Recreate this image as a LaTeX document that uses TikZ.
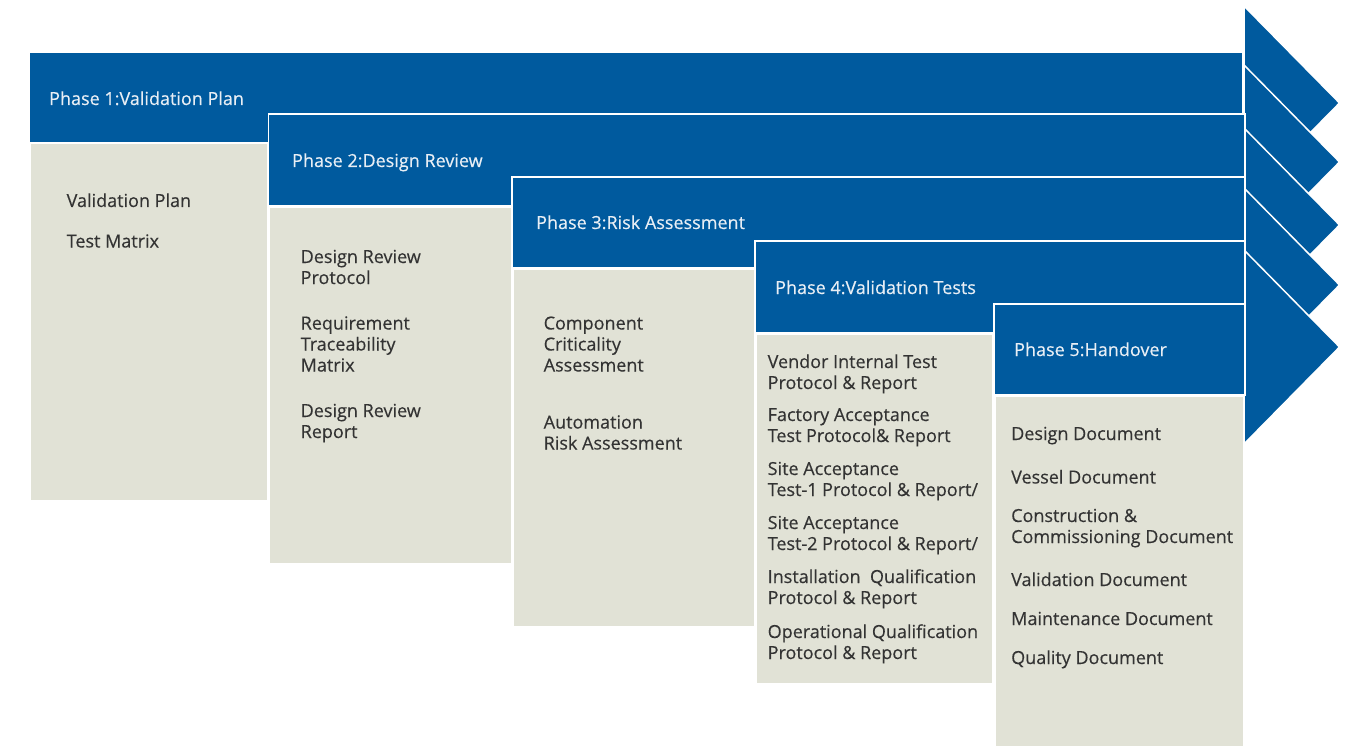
\documentclass[tikz,border=0pt]{standalone}
\usepackage{fontspec}
\setmainfont[FakeBold=0.3]{Open Sans}
\definecolor{pblue}{RGB}{0,90,158}
\definecolor{pgray}{RGB}{225,226,214}
\definecolor{ptext}{RGB}{51,51,51}
\definecolor{phead}{RGB}{232,238,245}
\newcommand{\ml}[1]{\begin{tabular}[t]{@{}l@{}}#1\end{tabular}}
\tikzset{
  band/.style={fill=pblue, draw=white, line width=1.5pt},
  panel/.style={fill=pgray, draw=white, line width=1.5pt},
  tri/.style={fill=pblue, draw=white, line width=1.5pt, line join=miter},
  head/.style={anchor=base west, inner sep=0pt, text=phead, font=\fontsize{18}{21}\selectfont},
  item/.style={anchor=base west, inner sep=0pt, text=ptext, font=\fontsize{18}{21}\selectfont},
}
\begin{document}
\begin{tikzpicture}[x=1pt,y=-1pt]
\useasboundingbox (0,0) rectangle (1351,746);
% arrow heads
\foreach \t in {103,162,225,285,347}{
  \draw[tri] (1244,\t-97) -- (1339.5,\t) -- (1244,\t+97) -- cycle;
}
% phase 1
\fill[pblue] (30,53) rectangle (1242,142);
\draw[panel] (30,143) rectangle (268,501);
% phase 2
\draw[band] (268.5,114) rectangle (1245,206);
\draw[panel] (269.5,207) rectangle (512,564);
% phase 3
\draw[band] (512,177) rectangle (1245,268);
\draw[panel] (513,269) rectangle (755,627);
% phase 4
\draw[band] (755,241) rectangle (1245,333);
\draw[panel] (756,334) rectangle (993,684);
% phase 5
\draw[band] (994,304) rectangle (1245,395);
\draw[panel] (995,396) rectangle (1244,750);

% headers
\node[head] (h1) at (49,105) {Phase 1:Validation Plan};
\node[head] (h2) at (292,167) {Phase 2:Design Review};
\node[head] (h3) at (536,229) {Phase 3:Risk Assessment};
\node[head] (h4) at (775,294) {Phase 4:Validation Tests};
\node[head] (h5) at (1014,356) {Phase 5:Handover};

% phase 1 items
\node[item] (a1) at (66.5,207) {Validation Plan};
\node[item] (a2) at (66.5,247.5) {Test Matrix};
% phase 2 items
\node[item] (b1) at (300.5,263) {\ml{Design Review\\Protocol}};
\node[item] (b2) at (300.5,329.5) {\ml{Requirement\\Traceability\\Matrix}};
\node[item] (b3) at (300.5,417) {\ml{Design Review\\Report}};
% phase 3 items
\node[item] (c1) at (543.5,329.5) {\ml{Component\\Criticality\\Assessment}};
\node[item] (c2) at (543.5,428.5) {\ml{Automation\\Risk Assessment}};
% phase 4 items
\node[item] (d1) at (767.5,368) {\ml{Vendor Internal Test\\Protocol \& Report}};
\node[item] (d2) at (767.5,421) {\ml{Factory Acceptance\\Test Protocol\& Report}};
\node[item] (d3) at (767.5,475) {\ml{Site Acceptance\\Test-1 Protocol \& Report/}};
\node[item] (d4) at (767.5,529) {\ml{Site Acceptance\\Test-2 Protocol \& Report/}};
\node[item] (d5) at (767.5,583) {\ml{Installation~ Qualification\\Protocol \& Report}};
\node[item] (d6) at (767.5,638) {\ml{Operational Qualification\\Protocol \& Report}};
% phase 5 items
\node[item] (e1) at (1011,440) {Design Document};
\node[item] (e2) at (1011,483.5) {Vessel Document};
\node[item] (e3) at (1011,522) {\ml{Construction \&\\Commissioning Document}};
\node[item] (e4) at (1011,586) {Validation Document};
\node[item] (e5) at (1011,625) {Maintenance Document};
\node[item] (e6) at (1011,664) {Quality Document};
\end{tikzpicture}
\end{document}
